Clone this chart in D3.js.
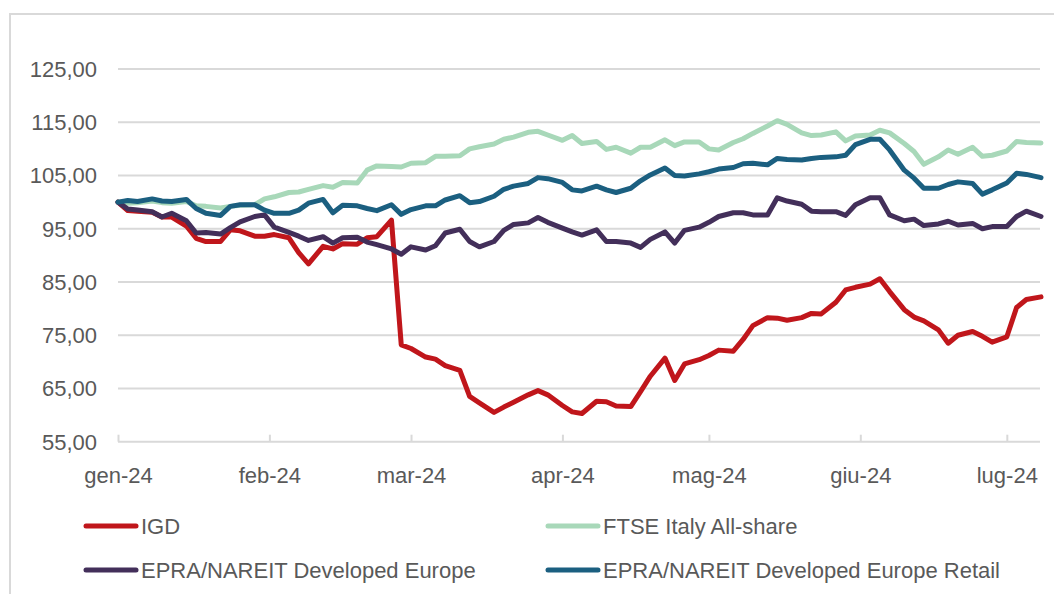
<!DOCTYPE html>
<html>
<head>
<meta charset="utf-8">
<script src="https://cdn.jsdelivr.net/npm/d3@7"></script>
<style>
  html, body { margin: 0; padding: 0; background: #ffffff; }
  svg { display: block; }
  text { font-family: "Liberation Sans", Arial, sans-serif; fill: #595959; }
</style>
</head>
<body>
<svg id="chart" width="1054" height="594"></svg>
<script>
// ---- DATA ----
const dates = [
  "2024-01-01","2024-01-03","2024-01-05","2024-01-08","2024-01-10","2024-01-12","2024-01-15","2024-01-17","2024-01-19",
  "2024-01-22","2024-01-24","2024-01-26","2024-01-29","2024-01-31","2024-02-02","2024-02-05","2024-02-07","2024-02-09",
  "2024-02-12","2024-02-14","2024-02-16","2024-02-19","2024-02-21","2024-02-23","2024-02-26","2024-02-28","2024-03-01",
  "2024-03-04","2024-03-06","2024-03-08","2024-03-11","2024-03-13","2024-03-15","2024-03-18","2024-03-20","2024-03-22",
  "2024-03-25","2024-03-27","2024-03-29","2024-04-01","2024-04-03","2024-04-05","2024-04-08","2024-04-10","2024-04-12",
  "2024-04-15","2024-04-17","2024-04-19","2024-04-22","2024-04-24","2024-04-26","2024-04-29","2024-05-01","2024-05-03",
  "2024-05-06","2024-05-08","2024-05-10","2024-05-13","2024-05-15","2024-05-17","2024-05-20","2024-05-22","2024-05-24",
  "2024-05-27","2024-05-29","2024-05-31","2024-06-03","2024-06-05","2024-06-07","2024-06-10","2024-06-12","2024-06-14",
  "2024-06-17","2024-06-19","2024-06-21","2024-06-24","2024-06-26","2024-06-28","2024-07-01","2024-07-03","2024-07-05",
  "2024-07-08"
];

const igd = [
  100, 98.4, 98.3, 98.1, 97.2, 97.2, 95.5, 93.2, 92.6, 92.6,
  94.8, 94.6, 93.6, 93.6, 93.9, 93.3, 90.5, 88.4, 91.7, 91.2,
  92.2, 92.1, 93.3, 93.5, 96.6, 73.2, 72.5, 70.9, 70.5, 69.3,
  68.4, 63.5, 62.3, 60.5, 61.5, 62.4, 63.8, 64.6, 63.8, 61.8,
  60.6, 60.3, 62.6, 62.5, 61.7, 61.6, 64.4, 67.3, 70.7, 66.5,
  69.6, 70.4, 71.2, 72.2, 72.0, 74.2, 76.8, 78.3, 78.2, 77.8,
  78.3, 79.1, 79.0, 81.2, 83.5, 84.0, 84.6, 85.6, 83.2, 79.8,
  78.4, 77.7, 76.0, 73.5, 75.0, 75.7, 74.8, 73.7, 74.7, 80.2,
  81.7, 82.2
];

const ftseItaly = [
  100, 99.8, 99.9, 100.2, 99.9, 99.8, 100.1, 99.3, 99.2, 98.9,
  99.2, 99.4, 99.5, 100.6, 101.0, 101.8, 101.9, 102.4, 103.1, 102.8,
  103.7, 103.6, 106.0, 106.8, 106.7, 106.6, 107.3, 107.4, 108.6, 108.6,
  108.7, 110.0, 110.4, 110.9, 111.8, 112.2, 113.1, 113.3, 112.6, 111.6,
  112.5, 111.0, 111.4, 109.9, 110.3, 109.2, 110.3, 110.3, 111.7, 110.6,
  111.3, 111.3, 110.0, 109.8, 111.2, 111.9, 112.9, 114.3, 115.3, 114.6,
  113.0, 112.5, 112.6, 113.2, 111.5, 112.4, 112.6, 113.5, 113.0, 111.0,
  109.5, 107.1, 108.5, 109.8, 109.0, 110.3, 108.6, 108.8, 109.6, 111.4,
  111.2, 111.1
];

const epraEurope = [
  100, 98.7, 98.5, 98.2, 97.2, 97.9, 96.5, 94.2, 94.3, 94.0,
  95.2, 96.3, 97.3, 97.6, 95.3, 94.3, 93.6, 92.8, 93.5, 92.3,
  93.3, 93.4, 92.5, 92.0, 91.2, 90.2, 91.6, 91.0, 91.8, 94.2,
  94.9, 92.6, 91.6, 92.6, 94.7, 95.8, 96.1, 97.1, 96.2, 95.1,
  94.4, 93.8, 94.8, 92.6, 92.6, 92.3, 91.5, 93.0, 94.4, 92.3,
  94.7, 95.3, 96.2, 97.3, 98.0, 98.0, 97.6, 97.6, 100.8, 100.2,
  99.6, 98.3, 98.2, 98.2, 97.5, 99.5, 100.8, 100.8, 97.6, 96.5,
  96.8, 95.6, 95.9, 96.4, 95.7, 96.0, 95.0, 95.4, 95.4, 97.3,
  98.3, 97.3
];

const epraRetail = [
  100, 100.3, 100.1, 100.6, 100.2, 100.1, 100.5, 98.8, 97.9, 97.5,
  99.2, 99.5, 99.5, 98.5, 97.9, 97.9, 98.5, 99.8, 100.5, 98.0,
  99.4, 99.3, 98.8, 98.4, 99.5, 97.7, 98.6, 99.3, 99.3, 100.4,
  101.2, 99.9, 100.1, 101.1, 102.4, 103.0, 103.5, 104.6, 104.4, 103.7,
  102.3, 102.1, 103.0, 102.3, 101.8, 102.6, 104.0, 105.1, 106.4, 105.0,
  104.9, 105.3, 105.7, 106.2, 106.5, 107.2, 107.3, 107.0, 108.2, 108.0,
  107.9, 108.2, 108.4, 108.5, 108.8, 110.8, 111.8, 111.8, 109.8, 106.0,
  104.5, 102.6, 102.6, 103.3, 103.8, 103.5, 101.5, 102.3, 103.6, 105.4,
  105.2, 104.6
];

const seriesNames = ["IGD", "FTSE Italy All-share", "EPRA/NAREIT Developed Europe", "EPRA/NAREIT Developed Europe Retail"];
const seriesColors = ["#c0161b", "#a8d8b9", "#432f5a", "#1b5f80"];
const yTicks = [55, 65, 75, 85, 95, 105, 115, 125];
const monthTicks = ["2024-01-01","2024-02-01","2024-03-01","2024-04-01","2024-05-01","2024-06-01","2024-07-01"];
const monthLabels = ["gen-24","feb-24","mar-24","apr-24","mag-24","giu-24","lug-24"];

// ---- CHART ----
const parse = d3.timeParse("%Y-%m-%d");
const svg = d3.select("#chart");

// outer frame
svg.append("rect")
  .attr("x", 10).attr("y", 14)
  .attr("width", 1200).attr("height", 800)
  .attr("fill", "none").attr("stroke", "#d9d9d9").attr("stroke-width", 2);

const x = d3.scaleTime()
  .domain([parse("2024-01-01"), parse("2024-07-08")])
  .range([118, 1041]);
const y = d3.scaleLinear().domain([55, 125]).range([441.7, 69]);
const gridRight = 1040;

// gridlines
svg.append("g").selectAll("line").data(yTicks.filter(v => v !== 55)).join("line")
  .attr("x1", 118).attr("x2", gridRight)
  .attr("y1", d => y(d)).attr("y2", d => y(d))
  .attr("stroke", "#d9d9d9").attr("stroke-width", 2);

// y axis labels
const fmt = v => d3.format(".2f")(v).replace(".", ",");
const yAxis = d3.axisLeft(y).tickValues(yTicks).tickFormat(fmt).tickSize(0).tickPadding(0);
const gy = svg.append("g").attr("transform", "translate(97,0)").call(yAxis);
gy.select(".domain").remove();
gy.selectAll("text")
  .attr("font-size", 22).attr("font-family", '"Liberation Sans", Arial, sans-serif')
  .attr("fill", "#595959").attr("dy", "0.34em");

// x axis
const xAxis = d3.axisBottom(x)
  .tickValues(monthTicks.map(parse))
  .tickFormat((d, i) => monthLabels[i])
  .tickSizeInner(-7).tickSizeOuter(0).tickPadding(26);
const gx = svg.append("g").attr("transform", `translate(0,${y(55)})`).call(xAxis);
gx.select(".domain").attr("d", `M118,0H${gridRight}`).attr("stroke", "#d9d9d9").attr("stroke-width", 2);
gx.selectAll(".tick line").attr("stroke", "#d9d9d9").attr("stroke-width", 2);
gx.selectAll("text")
  .attr("font-size", 22).attr("font-family", '"Liberation Sans", Arial, sans-serif')
  .attr("fill", "#595959").attr("dy", 0).attr("y", 41.3);

// lines
const allSeries = [igd, ftseItaly, epraEurope, epraRetail];
const line = d3.line()
  .x((d, i) => x(parse(dates[i])))
  .y(d => y(d));

svg.append("g").selectAll("path").data(allSeries).join("path")
  .attr("d", d => line(d))
  .attr("fill", "none")
  .attr("stroke", (d, i) => seriesColors[i])
  .attr("stroke-width", 5)
  .attr("stroke-linejoin", "round")
  .attr("stroke-linecap", "round");

// legend
const legendPos = [
  {lx: 84, ly: 526},
  {lx: 546, ly: 526},
  {lx: 84, ly: 570},
  {lx: 546, ly: 570}
];
const lg = svg.append("g");
seriesNames.forEach((name, i) => {
  const p = legendPos[i];
  lg.append("line")
    .attr("x1", p.lx + 2).attr("x2", p.lx + 52)
    .attr("y1", p.ly).attr("y2", p.ly)
    .attr("stroke", seriesColors[i]).attr("stroke-width", 5)
    .attr("stroke-linecap", "round");
  lg.append("text")
    .attr("x", p.lx + 57).attr("y", p.ly + 8)
    .attr("font-size", 22)
    .text(name);
});
</script>
</body>
</html>
